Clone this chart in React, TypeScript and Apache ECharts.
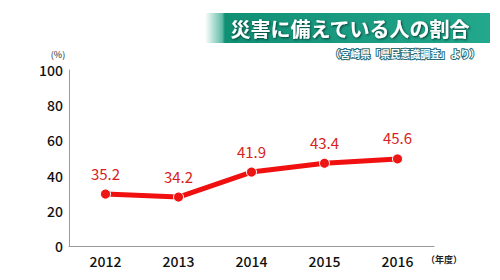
import React, { useEffect, useRef } from "react";
import * as echarts from "echarts";

const years = ["2012", "2013", "2014", "2015", "2016"];
// heights at which the points are drawn in the reference picture
const plotted = [29.5, 27.8, 42, 47, 49.5];
// values printed above the points
const valueLabels = ["35.2", "34.2", "41.9", "43.4", "45.6"];
const yTicks = [0, 20, 40, 60, 80, 100];

const title = "災害に備えている人の割合";
const subtitle = "（宮崎県「県民意識調査」より）";

export default function App() {
  const ref = useRef<HTMLDivElement>(null);
  useEffect(() => {
    if (!ref.current) return;
    const chart = echarts.init(ref.current, null, { renderer: "svg" });
    const font = "'Noto Sans CJK JP', 'Noto Sans', sans-serif";
    chart.setOption({
      animation: false,
      backgroundColor: "#ffffff",
      grid: { left: 69, right: 66, top: 70, bottom: 34, containLabel: false },
      xAxis: {
        type: "category",
        data: years,
        boundaryGap: true,
        axisLine: { lineStyle: { color: "#9a9a9a", width: 1 } },
        axisTick: { show: false },
        axisLabel: { color: "#111", fontSize: 14, fontWeight: 500, fontFamily: font, margin: 8 },
      },
      yAxis: {
        type: "value",
        min: yTicks[0],
        max: yTicks[yTicks.length - 1],
        interval: 20,
        axisLine: { show: true, lineStyle: { color: "#9a9a9a", width: 1 } },
        axisTick: { show: false },
        splitLine: { show: false },
        axisLabel: { color: "#111", fontSize: 14, fontWeight: 500, fontFamily: font, margin: 6 },
      },
      graphic: [
        {
          type: "rect",
          shape: { x: 205, y: 13, width: 285, height: 30 },
          style: {
            fill: new echarts.graphic.LinearGradient(0, 0, 1, 0, [
              { offset: 0, color: "rgba(30,160,130,0)" },
              { offset: 0.06, color: "rgba(30,160,130,0.7)" },
              { offset: 0.07, color: "#0f8f74" },
              { offset: 0.5, color: "#1a9a80" },
              { offset: 1, color: "#22a88c" },
            ]),
          },
          z: 1,
        },
        {
          type: "text",
          x: 350,
          y: 28,
          style: {
            text: title,
            fill: "#ffffff",
            fontSize: 20,
            fontWeight: "bold",
            fontFamily: font,
            align: "center",
            verticalAlign: "middle",
            textShadowColor: "rgba(0,40,40,0.8)",
            textShadowBlur: 2,
            textShadowOffsetX: 1,
            textShadowOffsetY: 1,
          },
          z: 2,
        },
        {
          type: "text",
          x: 480,
          y: 53,
          style: {
            text: subtitle,
            fill: "#ffffff",
            stroke: "#2a6f7a",
            lineWidth: 2,
            fontSize: 10,
            fontWeight: "bold",
            fontFamily: font,
            align: "right",
            verticalAlign: "middle",
          },
          z: 2,
        },
        {
          type: "text",
          x: 58,
          y: 54,
          style: {
            text: "(%)",
            fill: "#222",
            fontSize: 9,
            fontFamily: font,
            align: "center",
            verticalAlign: "middle",
          },
        },
        {
          type: "text",
          x: 444,
          y: 259,
          style: {
            text: "（年度）",
            fill: "#222",
            fontSize: 9,
            fontWeight: "bold",
            fontFamily: font,
            align: "center",
            verticalAlign: "middle",
          },
        },
      ],
      series: [
        {
          type: "line",
          data: plotted,
          lineStyle: { color: "#f01010", width: 5 },
          itemStyle: { color: "#ee1515", borderColor: "#ffffff", borderWidth: 1 },
          symbol: "circle",
          symbolSize: 10,
          label: {
            show: true,
            position: "top",
            distance: 8,
            color: "#d81e1e",
            fontSize: 15,
            fontFamily: font,
            formatter: (p: any) => valueLabels[p.dataIndex],
          },
        },
      ],
    });
    return () => chart.dispose();
  }, []);
  return <div ref={ref} style={{ width: 500, height: 280, position: "absolute", left: 0, top: 0 }} />;
}
